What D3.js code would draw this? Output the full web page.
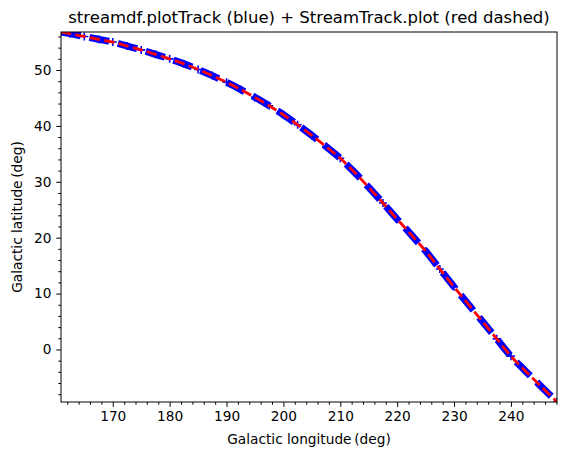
<!DOCTYPE html>
<html>
<head>
<meta charset="utf-8">
<title>stream track</title>
<script src="https://d3js.org/d3.v7.min.js"></script>
<style>
  body { margin: 0; background: #fff; }
  text { font-family: "DejaVu Sans", sans-serif; fill: #000; }
</style>
</head>
<body>
<script>
// galactic longitude / latitude (deg)
var lon = [160.9, 162.5, 165, 167.5, 170, 172.5, 175, 177.5, 180, 182.5, 185, 187.5,
           190, 192.5, 195, 197.5, 200, 202.5, 205, 207.5, 210, 212.5, 215, 217.5,
           220, 222.5, 225, 227.5, 230, 232.5, 235, 237.5, 240, 242.5, 245, 248.1];
var lat = [56.8, 56.5, 56.0, 55.5, 55.0, 54.3, 53.6, 52.8, 52.0, 51.1, 50.1, 49.0,
           47.8, 46.5, 45.1, 43.6, 42.0, 40.2, 38.3, 36.3, 34.2, 31.7, 29.0, 26.2,
           23.3, 20.5, 17.6, 14.4, 11.2, 8.1, 5.0, 1.9, -1.2, -3.8, -6.3, -9.4];
var xTicks = [170, 180, 190, 200, 210, 220, 230, 240];
var yTicks = [0, 10, 20, 30, 40, 50];
var xDomain = [160.9, 248.1];
var yDomain = [-9.4, 56.8];

var W = 566, H = 459;
var m = {top: 32, right: 9, bottom: 57, left: 61};
var w = W - m.left - m.right, h = H - m.top - m.bottom;

var svg = d3.select("body").append("svg")
  .attr("width", W).attr("height", H);

var x = d3.scaleLinear().domain(xDomain).range([0, w]);
var y = d3.scaleLinear().domain(yDomain).range([h, 0]);

var g = svg.append("g").attr("transform", "translate(" + m.left + "," + m.top + ")");

svg.append("defs").append("clipPath").attr("id", "clip")
  .append("rect").attr("width", w).attr("height", h);

var pts = lon.map((d, i) => [d, lat[i]]);
var line = d3.line().x(d => x(d[0])).y(d => y(d[1])).curve(d3.curveCatmullRom);

var plot = g.append("g").attr("clip-path", "url(#clip)");

// blue: thick dashed + markers
plot.append("path").datum(pts)
  .attr("d", line)
  .attr("fill", "none")
  .attr("stroke", "#0000ff")
  .attr("stroke-width", 7)
  .attr("stroke-dasharray", "20,9");

plot.selectAll(".mk").data(pts).join("path")
  .attr("class", "mk")
  .attr("d", d => {
    var px = x(d[0]), py = y(d[1]), s = 4;
    return "M" + (px - s) + "," + py + "H" + (px + s) + "M" + px + "," + (py - s) + "V" + (py + s);
  })
  .attr("stroke", "#0000ff")
  .attr("stroke-width", 1.6);

// red dashed
plot.append("path").datum(pts)
  .attr("d", line)
  .attr("fill", "none")
  .attr("stroke", "#ff0000")
  .attr("stroke-width", 2.8)
  .attr("stroke-dasharray", "10.3,4.4");

// axes
var fs = "13.7px";
var xAxis = g.append("g").attr("transform", "translate(0," + h + ")")
  .call(d3.axisBottom(x).tickValues(xTicks).tickSize(4.8).tickPadding(4.8).tickFormat(d3.format("d")));
var xMinor = g.append("g").attr("transform", "translate(0," + h + ")")
  .call(d3.axisBottom(x).tickValues(d3.range(162, 249, 2).filter(v => v % 10 !== 0)).tickSize(2.7).tickFormat(""));

var yAxis = g.append("g")
  .call(d3.axisLeft(y).tickValues(yTicks).tickSize(4.8).tickPadding(4.8).tickFormat(d3.format("d")));
var yMinor = g.append("g")
  .call(d3.axisLeft(y).tickValues(d3.range(-8, 57, 2).filter(v => v % 10 !== 0)).tickSize(2.7).tickFormat(""));

[xAxis, xMinor, yAxis, yMinor].forEach(a => {
  a.select(".domain").remove();
  a.selectAll("line").attr("stroke", "#000").attr("stroke-width", 1);
  a.selectAll("text").attr("font-size", fs).attr("font-family", "DejaVu Sans, sans-serif");
});

g.append("rect").attr("width", w).attr("height", h)
  .attr("fill", "none").attr("stroke", "#000").attr("stroke-width", 1);

// labels
svg.append("text")
  .attr("x", m.left + w / 2).attr("y", 23)
  .attr("text-anchor", "middle")
  .attr("font-size", "16.5px")
  .text("streamdf.plotTrack (blue) + StreamTrack.plot (red dashed)");

svg.append("text")
  .attr("x", m.left + w / 2).attr("y", 444)
  .attr("text-anchor", "middle")
  .attr("font-size", fs)
  .text("Galactic longitude\u2009(deg)");

svg.append("text")
  .attr("transform", "translate(22," + (m.top + h / 2) + ") rotate(-90)")
  .attr("text-anchor", "middle")
  .attr("font-size", fs)
  .text("Galactic latitude\u2009(deg)");
</script>
</body>
</html>
